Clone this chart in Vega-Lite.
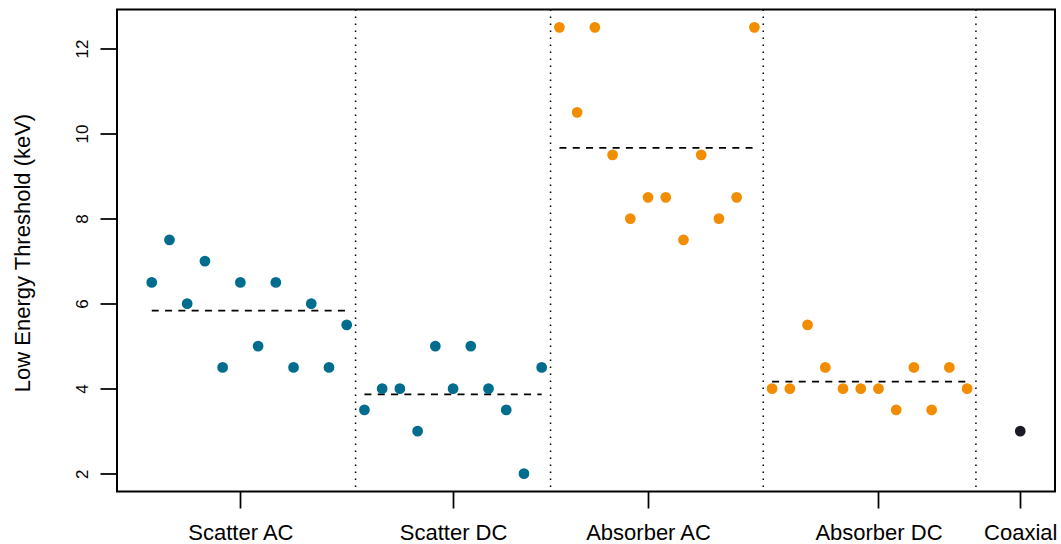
{
  "$schema": "https://vega.github.io/schema/vega-lite/v6.json",
  "width": 938,
  "height": 482,
  "autosize": {"type": "none"},
  "padding": {"left": 117, "top": 9.5, "right": 6, "bottom": 52.5},
  "background": "white",
  "config": {
    "font": "Liberation Sans",
    "view": {"stroke": "black", "strokeWidth": 2, "fill": null}
  },
  "datasets": {
    "points": [
      {"idx": 1, "value": 6.5, "group": "Scatter AC"},
      {"idx": 2, "value": 7.5, "group": "Scatter AC"},
      {"idx": 3, "value": 6.0, "group": "Scatter AC"},
      {"idx": 4, "value": 7.0, "group": "Scatter AC"},
      {"idx": 5, "value": 4.5, "group": "Scatter AC"},
      {"idx": 6, "value": 6.5, "group": "Scatter AC"},
      {"idx": 7, "value": 5.0, "group": "Scatter AC"},
      {"idx": 8, "value": 6.5, "group": "Scatter AC"},
      {"idx": 9, "value": 4.5, "group": "Scatter AC"},
      {"idx": 10, "value": 6.0, "group": "Scatter AC"},
      {"idx": 11, "value": 4.5, "group": "Scatter AC"},
      {"idx": 12, "value": 5.5, "group": "Scatter AC"},
      {"idx": 13, "value": 3.5, "group": "Scatter DC"},
      {"idx": 14, "value": 4.0, "group": "Scatter DC"},
      {"idx": 15, "value": 4.0, "group": "Scatter DC"},
      {"idx": 16, "value": 3.0, "group": "Scatter DC"},
      {"idx": 17, "value": 5.0, "group": "Scatter DC"},
      {"idx": 18, "value": 4.0, "group": "Scatter DC"},
      {"idx": 19, "value": 5.0, "group": "Scatter DC"},
      {"idx": 20, "value": 4.0, "group": "Scatter DC"},
      {"idx": 21, "value": 3.5, "group": "Scatter DC"},
      {"idx": 22, "value": 2.0, "group": "Scatter DC"},
      {"idx": 23, "value": 4.5, "group": "Scatter DC"},
      {"idx": 24, "value": 12.5, "group": "Absorber AC"},
      {"idx": 25, "value": 10.5, "group": "Absorber AC"},
      {"idx": 26, "value": 12.5, "group": "Absorber AC"},
      {"idx": 27, "value": 9.5, "group": "Absorber AC"},
      {"idx": 28, "value": 8.0, "group": "Absorber AC"},
      {"idx": 29, "value": 8.5, "group": "Absorber AC"},
      {"idx": 30, "value": 8.5, "group": "Absorber AC"},
      {"idx": 31, "value": 7.5, "group": "Absorber AC"},
      {"idx": 32, "value": 9.5, "group": "Absorber AC"},
      {"idx": 33, "value": 8.0, "group": "Absorber AC"},
      {"idx": 34, "value": 8.5, "group": "Absorber AC"},
      {"idx": 35, "value": 12.5, "group": "Absorber AC"},
      {"idx": 36, "value": 4.0, "group": "Absorber DC"},
      {"idx": 37, "value": 4.0, "group": "Absorber DC"},
      {"idx": 38, "value": 5.5, "group": "Absorber DC"},
      {"idx": 39, "value": 4.5, "group": "Absorber DC"},
      {"idx": 40, "value": 4.0, "group": "Absorber DC"},
      {"idx": 41, "value": 4.0, "group": "Absorber DC"},
      {"idx": 42, "value": 4.0, "group": "Absorber DC"},
      {"idx": 43, "value": 3.5, "group": "Absorber DC"},
      {"idx": 44, "value": 4.5, "group": "Absorber DC"},
      {"idx": 45, "value": 3.5, "group": "Absorber DC"},
      {"idx": 46, "value": 4.5, "group": "Absorber DC"},
      {"idx": 47, "value": 4.0, "group": "Absorber DC"},
      {"idx": 50, "value": 3.0, "group": "Coaxial"}
    ],
    "means": [
      {"start": 1, "end": 12, "mean": 5.833},
      {"start": 13, "end": 23, "mean": 3.864},
      {"start": 24, "end": 35, "mean": 9.667},
      {"start": 36, "end": 47, "mean": 4.167}
    ],
    "dividers": [
      {"pos": 12.5},
      {"pos": 23.5},
      {"pos": 35.5},
      {"pos": 47.5}
    ]
  },
  "layer": [
    {
      "data": {"name": "dividers"},
      "mark": {"type": "rule", "color": "black", "strokeWidth": 1.5, "strokeDash": [1.5, 5.5]},
      "encoding": {
        "x": {
          "field": "pos", "type": "quantitative",
          "scale": {"domain": [-0.96, 51.96], "nice": false, "zero": false},
          "axis": {
            "values": [6, 18, 29, 42, 50],
            "labelExpr": "datum.value == 6 ? 'Scatter AC' : datum.value == 18 ? 'Scatter DC' : datum.value == 29 ? 'Absorber AC' : datum.value == 42 ? 'Absorber DC' : 'Coaxial'",
            "title": null,
            "domain": false,
            "grid": false,
            "ticks": true,
            "tickSize": 16.5,
            "tickWidth": 1.75,
            "tickColor": "black",
            "labelFontSize": 22,
            "labelColor": "black",
            "labelPadding": 31.3,
            "labelBaseline": "alphabetic",
            "labelAlign": "center",
            "labelOverlap": false,
            "labelBound": false,
            "labelFlush": false
          }
        }
      }
    },
    {
      "data": {"name": "means"},
      "mark": {"type": "rule", "color": "black", "strokeWidth": 1.75, "strokeDash": [7, 6.3]},
      "encoding": {
        "x": {"field": "start", "type": "quantitative"},
        "x2": {"field": "end"},
        "y": {"field": "mean", "type": "quantitative"}
      }
    },
    {
      "data": {"name": "points"},
      "mark": {"type": "circle", "size": 115, "opacity": 1},
      "encoding": {
        "x": {"field": "idx", "type": "quantitative"},
        "y": {
          "field": "value", "type": "quantitative",
          "scale": {"domain": [1.58, 12.92], "nice": false, "zero": false},
          "axis": {
            "values": [2, 4, 6, 8, 10, 12],
            "title": "Low Energy Threshold (keV)",
            "titleFontSize": 22,
            "titleFontWeight": "normal",
            "titleColor": "black",
            "titleAngle": 270,
            "titleAlign": "center",
            "titleBaseline": "alphabetic",
            "titleX": -88,
            "titleY": 243,
            "domain": false,
            "grid": false,
            "tickSize": 17,
            "tickWidth": 1.75,
            "tickColor": "black",
            "labelFontSize": 17,
            "labelColor": "black",
            "labelAngle": 270,
            "labelAlign": "center",
            "labelBaseline": "alphabetic",
            "labelPadding": 12.5,
            "labelOverlap": false,
            "labelBound": false,
            "labelFlush": false
          }
        },
        "color": {
          "field": "group", "type": "nominal",
          "scale": {
            "domain": ["Scatter AC", "Scatter DC", "Absorber AC", "Absorber DC", "Coaxial"],
            "range": ["#006C8E", "#006C8E", "#F28C00", "#F28C00", "#1B1B28"]
          },
          "legend": null
        }
      }
    }
  ]
}
